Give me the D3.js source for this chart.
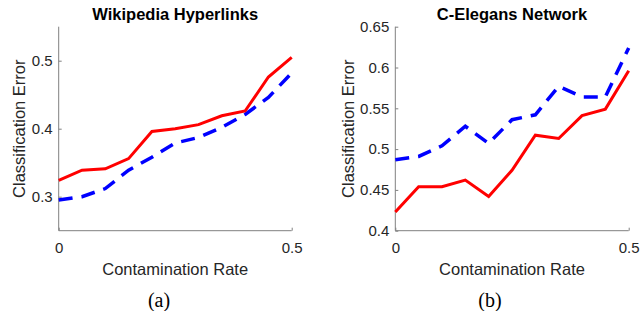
<!DOCTYPE html>
<html>
<head>
<meta charset="utf-8">
<script src="https://cdn.jsdelivr.net/npm/d3@7"></script>
<style>
  body { margin: 0; background: #fff; }
  svg { display: block; }
  .tick text { font-family: "Liberation Sans", Arial, sans-serif; font-size: 15px; fill: #262626; }
  .lbl { font-family: "Liberation Sans", Arial, sans-serif; font-size: 16.5px; fill: #262626; }
  .ttl { font-family: "Liberation Sans", Arial, sans-serif; font-size: 16.5px; font-weight: bold; fill: #000; }
  .cap { font-family: "Liberation Serif", "Times New Roman", serif; font-size: 20px; fill: #000; }
</style>
</head>
<body>
<svg width="644" height="311"></svg>
<script>
var rates = [0, 0.05, 0.1, 0.15, 0.2, 0.25, 0.3, 0.35, 0.4, 0.45, 0.5];

// Wikipedia Hyperlinks
var wikiRed  = [0.324, 0.339, 0.341, 0.356, 0.396, 0.400, 0.406, 0.419, 0.426, 0.476, 0.505];
var wikiBlue = [0.295, 0.300, 0.312, 0.339, 0.358, 0.379, 0.387, 0.402, 0.421, 0.446, 0.482];

// C-Elegans Network
var celRed  = [0.423, 0.454, 0.454, 0.462, 0.442, 0.474, 0.517, 0.513, 0.541, 0.549, 0.596];
var celBlue = [0.487, 0.491, 0.504, 0.528, 0.507, 0.536, 0.542, 0.577, 0.564, 0.564, 0.624];

var wikiTicks = [0.3, 0.4, 0.5];
var celTicks = [0.4, 0.45, 0.5, 0.55, 0.6, 0.65];
var xTicks = [0, 0.5];

var svg = d3.select("svg");

var panels = [
  { title: "Wikipedia Hyperlinks", cap: "(a)", left: 58.7, right: 291.7, domain: [0.25, 0.55],
    ticks: wikiTicks, red: wikiRed, blue: wikiBlue, ylabX: 25, capX: 159 },
  { title: "C-Elegans Network", cap: "(b)", left: 395.3, right: 628.7, domain: [0.4, 0.65],
    ticks: celTicks, red: celRed, blue: celBlue, ylabX: 354, capX: 490 }
];

var plotTop = 26.7, plotBottom = 230.7;

panels.forEach(function(p) {
  var x = d3.scaleLinear().domain([0, 0.5]).range([p.left, p.right]);
  var y = d3.scaleLinear().domain(p.domain).range([plotBottom, plotTop]);

  var g = svg.append("g");

  var yAxis = g.append("g")
    .attr("transform", "translate(" + p.left + ",0)")
    .call(d3.axisLeft(y).tickValues(p.ticks).tickSize(-3).tickPadding(6)
      .tickFormat(function(d) { return String(+d.toFixed(2)); }));
  yAxis.select(".domain").attr("d", "M0," + plotBottom + "V" + plotTop).attr("stroke", "#808080");
  yAxis.selectAll(".tick line").attr("stroke", "#808080");

  var xAxis = g.append("g")
    .attr("transform", "translate(0," + plotBottom + ")")
    .call(d3.axisBottom(x).tickValues(xTicks).tickSize(-3).tickPadding(12)
      .tickFormat(function(d) { return String(d); }));
  xAxis.select(".domain").attr("d", "M" + p.left + ",0H" + p.right).attr("stroke", "#808080");
  xAxis.selectAll(".tick line").attr("stroke", "#808080");

  var line = d3.line()
    .x(function(d, i) { return x(rates[i]); })
    .y(function(d) { return y(d); });

  g.append("path")
    .datum(p.blue)
    .attr("d", line)
    .attr("fill", "none")
    .attr("stroke", "#0000ff")
    .attr("stroke-width", 3.5)
    .attr("stroke-dasharray", "14,9");

  g.append("path")
    .datum(p.red)
    .attr("d", line)
    .attr("fill", "none")
    .attr("stroke", "#ff0000")
    .attr("stroke-width", 3);

  var cx = (p.left + p.right) / 2;
  g.append("text").attr("class", "ttl")
    .attr("x", cx).attr("y", 20).attr("text-anchor", "middle").text(p.title);

  g.append("text").attr("class", "lbl")
    .attr("x", cx).attr("y", 275).attr("text-anchor", "middle").text("Contamination Rate");

  g.append("text").attr("class", "lbl")
    .attr("transform", "translate(" + p.ylabX + "," + ((plotTop + plotBottom) / 2) + ") rotate(-90)")
    .attr("text-anchor", "middle").text("Classification Error");

  g.append("text").attr("class", "cap")
    .attr("x", p.capX).attr("y", 307).attr("text-anchor", "middle").text(p.cap);
});
</script>
</body>
</html>
